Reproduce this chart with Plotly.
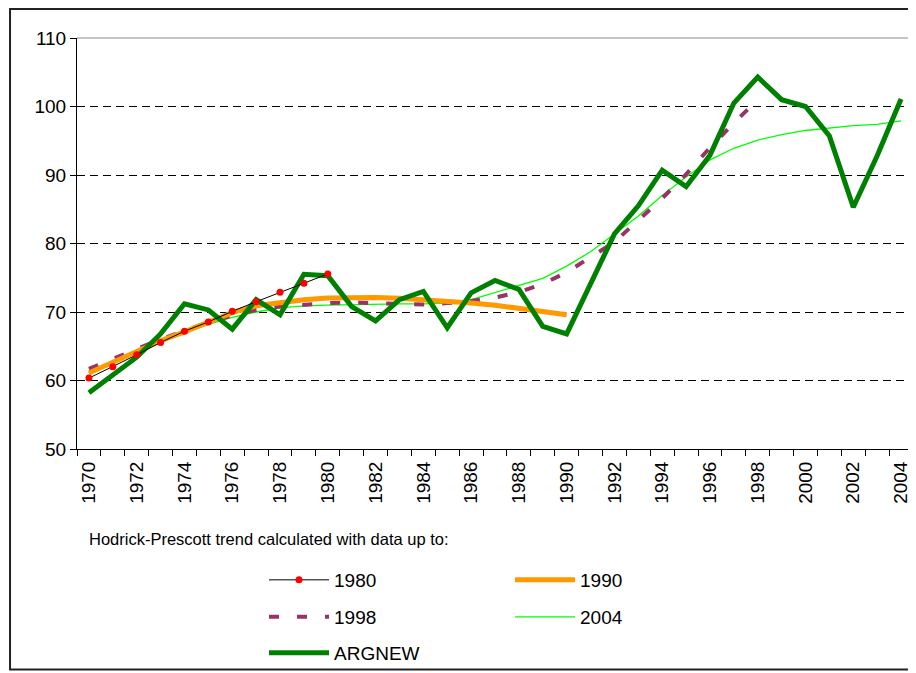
import plotly.graph_objects as go

years = list(range(1970, 2005))

argnew = [58.2, 60.8, 63.4, 66.8, 71.2, 70.3, 67.5, 71.8, 69.6, 75.5, 75.3,
          70.8, 68.7, 71.8, 73.0, 67.7, 72.8, 74.6, 73.3, 67.9, 66.8,
          74.1, 81.4, 85.5, 90.7, 88.3, 92.9, 100.5, 104.3, 101.0, 100.0,
          95.7, 85.3, 92.8, 101.1]

hp1980 = [60.35, 62.0, 63.75, 65.55, 67.2, 68.55, 70.1, 71.5, 72.9, 74.2, 75.55]

hp1990 = [61.1, 62.7, 64.3, 65.8, 67.1, 68.5, 69.9, 70.9, 71.4, 71.8, 72.05,
          72.1, 72.1, 72.0, 71.8, 71.6, 71.3, 71.0, 70.55, 70.05, 69.6]

hp1998 = [61.7, 63.2, 64.6, 66.0, 67.3, 68.5, 69.5, 70.3, 70.8, 71.1, 71.3,
          71.4, 71.3, 71.1, 71.1, 71.3, 71.6, 72.1, 72.9, 74.1, 75.8,
          78.0, 80.2, 83.4, 86.6, 90.1, 94.0, 97.6, 101.0]

hp2004 = [61.2, 62.7, 64.2, 65.6, 67.0, 68.2, 69.2, 70.0, 70.6, 70.9, 71.0,
          71.1, 71.2, 71.2, 71.2, 71.3, 71.8, 72.8, 73.8, 74.9, 76.7,
          78.8, 81.4, 84.0, 87.0, 89.7, 92.2, 93.9, 95.1, 95.9, 96.5,
          96.9, 97.2, 97.4, 97.9]

tick_years = years[::2]
tick_labels = [str(y) for y in tick_years]

fig = go.Figure()

fig.add_trace(go.Scatter(x=years[:len(hp2004)], y=hp2004, name="2004", mode="lines",
                         line=dict(color="#00FF00", width=1.3),
                         legend="legend2", legendrank=2))
fig.add_trace(go.Scatter(x=years[:len(hp1998)], y=hp1998, name="1998", mode="lines",
                         line=dict(color="#993366", width=4, dash="10px,18px"),
                         legend="legend2", legendrank=1))
fig.add_trace(go.Scatter(x=years[:len(hp1990)], y=hp1990, name="1990", mode="lines",
                         line=dict(color="#FF9900", width=5),
                         legend="legend", legendrank=2))
fig.add_trace(go.Scatter(x=years[:len(argnew)], y=argnew, name="ARGNEW", mode="lines",
                         line=dict(color="#008000", width=5),
                         legend="legend3", legendrank=1))
fig.add_trace(go.Scatter(x=years[:len(hp1980)], y=hp1980, name="1980", mode="lines+markers",
                         line=dict(color="black", width=1),
                         marker=dict(color="red", size=7),
                         legend="legend", legendrank=1))

legend_common = dict(orientation="h", xanchor="left", yanchor="middle",
                     itemwidth=60, entrywidth=171, font=dict(size=19, color="black"),
                     bgcolor="rgba(0,0,0,0)", traceorder="normal")

fig.update_layout(
    width=908, height=665,
    margin=dict(l=69, r=3, t=30, b=223),
    paper_bgcolor="white", plot_bgcolor="white",
    font=dict(family="Arial, Liberation Sans, sans-serif", color="black"),
    showlegend=True,
    legend=dict(x=0.2237, y=-0.3155, **legend_common),
    legend2=dict(x=0.2237, y=-0.4053, **legend_common),
    legend3=dict(x=0.2237, y=-0.4927, **legend_common),
    xaxis=dict(range=[1969.5, 2004.5], showline=True, linecolor="black", linewidth=1,
               tickmode="array", tickvals=tick_years, ticktext=tick_labels,
               tickangle=-90, ticks="", showgrid=False, zeroline=False,
               tickfont=dict(size=19, color="black"), ticklabelstandoff=4,
               minor=dict(ticks="outside", ticklen=6, tickcolor="black",
                          tick0=1969.5, dtick=1, showgrid=False)),
    yaxis=dict(range=[50, 110], dtick=10, showline=True, linecolor="black", linewidth=1,
               ticks="outside", ticklen=6, tickcolor="black",
               showgrid=True, gridcolor="black", gridwidth=1, griddash="8px,5px",
               zeroline=False, tickfont=dict(size=19, color="black")),
    annotations=[dict(text="Hodrick-Prescott trend calculated with data up to:",
                      xref="paper", yref="paper", x=0.012, y=-0.2184,
                      xanchor="left", yanchor="middle", showarrow=False,
                      font=dict(size=16.5, color="black"))],
    shapes=[
        dict(type="line", xref="paper", yref="paper", x0=0, x1=1, y0=1, y1=1,
             line=dict(color="#888888", width=1), layer="above"),
        dict(type="line", xref="paper", yref="paper", x0=1, x1=1, y0=0, y1=1,
             line=dict(color="#888888", width=1), layer="above"),
        dict(type="rect", xref="paper", yref="paper", x0=-0.0801, x1=1.03,
             y0=-0.5364, y1=1.0704, line=dict(color="#222222", width=2),
             fillcolor="rgba(0,0,0,0)", layer="above"),
    ],
)

fig.write_html("out.html")
